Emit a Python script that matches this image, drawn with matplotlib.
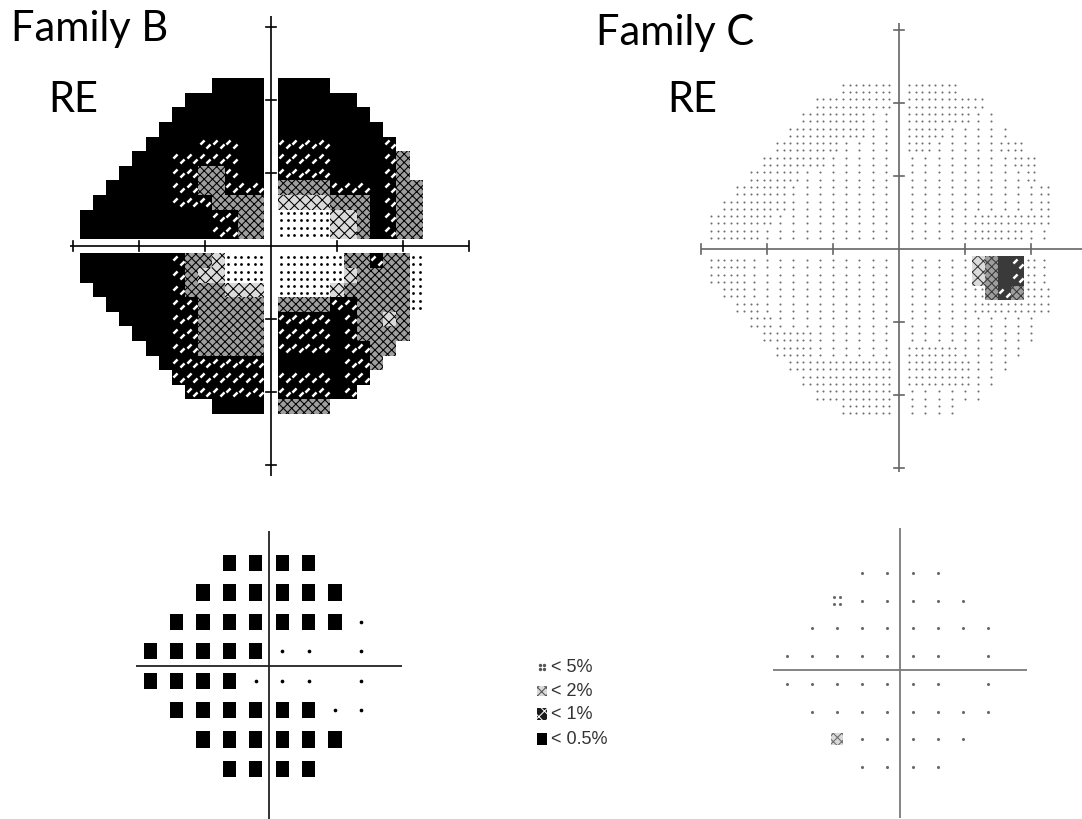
import numpy as np
import matplotlib.pyplot as plt

W, H = 1082, 820

# Grayscale cells are 2 x 2 degrees. Rows run from +22 down to -22 deg,
# columns are nasal -28..-2 then temporal +2..+22 (split by '|').
# 0 = sparse dots, 1 = dense dots, 2 = light hatch, 3 = dense hatch,
# 4 = dark with white dashes, 5 = solid; blank = outside the tested field.
CELL_X = list(range(-28, 0, 2)) + list(range(2, 24, 2))
CELL_Y = list(range(22, 0, -2)) + list(range(-2, -24, -2))

FAMILY_B_GRAY = [
    "          5555|5555       ",
    "        555555|555555     ",
    "       5555555|5555555    ",
    "      55555555|55555555   ",
    "     555544455|444455554  ",
    "    5554444455|4444555543 ",
    "   55554433455|4444555543 ",
    "  555554433444|33334445433",
    " 5555554443333|22223335433",
    "55555555554433|11112235433",
    "55555555554433|11112235433",
    "55555554332111|11111334331",
    "55555554322111|11111233331",
    " 5555554333222|11112333331",
    "  555554433333|33334433331",
    "   55554433333|4444543323 ",
    "    5554433333|4444543333 ",
    "     554433333|444454433  ",
    "      54444444|55555443   ",
    "       4444444|4444544    ",
    "        444444|444454     ",
    "          5555|3333       ",
]

FAMILY_C_GRAY = [
    "          1111|1111       ",
    "        111111|111111     ",
    "       1111100|1111100    ",
    "      11111100|11100000   ",
    "     111110000|110000011  ",
    "    1111100000|0000000011 ",
    "   11110000000|0000000001 ",
    "  111100000000|00000000001",
    " 1111100000000|00000000001",
    "11111000000000|00000111111",
    "11110000000000|00000111100",
    "11100000000000|00000235410",
    "11100000000000|00000235410",
    " 1100000000000|00000134311",
    "  110000000000|00000111111",
    "   11000000000|0000000000 ",
    "    1111000000|0000000000 ",
    "     111000000|111100000  ",
    "      11111111|11111000   ",
    "       1111111|1111100    ",
    "        111111|000000     ",
    "          1111|0000       ",
]

# Pattern deviation probability plots, 24-2 test grid (6 deg spacing)
# 0 = normal, 1 = <5%, 2 = <2%, 3 = <1%, 4 = <0.5%
POINT_X = [-27, -21, -15, -9, -3, 3, 9, 15, 21]
POINT_Y = [21, 15, 9, 3, -3, -9, -15, -21]

FAMILY_B_PROB = [
    "   4444  ",
    "  444444 ",
    " 44444440",
    "4444400 0",
    "4444000 0",
    " 44444400",
    "  444444 ",
    "   4444  ",
]

FAMILY_C_PROB = [
    "   0000  ",
    "  100000 ",
    " 00000000",
    "0000000 0",
    "0000000 0",
    " 00000000",
    "  200000 ",
    "   0000  ",
]

LEGEND_LEVELS = [1, 2, 3, 4]
LEGEND_LABELS = ['< 5%', '< 2%', '< 1%', '< 0.5%']

# slanted white stroke used inside the dark grayscale symbol
DASH = [(-0.5, -0.2), (-0.2, -0.5), (0.5, 0.2), (0.2, 0.5)]

plt.rcParams['hatch.linewidth'] = 0.75
fig = plt.figure(figsize=(W / 100, H / 100), dpi=100)


def place(cx, cy, sx, sy, half):
    # axes centred on pixel (cx, cy), sx / sy pixels per degree
    ax = fig.add_axes([(cx - half * sx) / W, 1 - (cy + half * sy) / H,
                       2 * half * sx / W, 2 * half * sy / H])
    ax.set_xlim(-half, half)
    ax.set_ylim(-half, half)
    ax.axis('off')
    return ax


def cross(ax, xspan, yspan, color, lw, ticks=(), tick=0.7):
    ax.plot(xspan, [0, 0], color=color, lw=lw, solid_capstyle='butt')
    ax.plot([0, 0], yspan, color=color, lw=lw, solid_capstyle='butt')
    for t in ticks:
        ax.plot([t, t], [-tick, tick], color=color, lw=lw)
        ax.plot([-tick, tick], [t, t], color=color, lw=lw)


def split_levels(rows, xs, ys):
    levels = {}
    for y, row in zip(ys, rows):
        for x, ch in zip(xs, row.replace('|', '')):
            if ch != ' ':
                levels.setdefault(int(ch), []).append((x, y))
    out = {}
    for lvl in range(6):
        pts = np.array(levels.get(lvl, []), dtype=float).reshape(-1, 2)
        out[lvl] = (pts[:, 0], pts[:, 1])
    return out


def draw_gray(ax, rows, ink, dot_color, dot_size):
    lv = split_levels(rows, CELL_X, CELL_Y)
    xd = np.concatenate([lv[5][0], lv[4][0]])
    yd = np.concatenate([lv[5][1], lv[4][1]])
    ax.bar(xd, 2, width=2, bottom=yd - 1, color=ink, linewidth=0,
           antialiased=False)
    x4, y4 = lv[4]
    for dx, dy in ((-0.5, 0.3), (0.5, -0.3)):
        ax.scatter(x4 + dx, y4 + dy, marker=DASH, s=18, color='white',
                   linewidths=0)
    for lvl, hatch, face in ((3, 'xxxx', '0.62'), (2, 'xxx', '0.86')):
        xs, ys = lv[lvl]
        ax.bar(xs, 2, width=2, bottom=ys - 1, facecolor=face,
               edgecolor=ink, linewidth=0, hatch=hatch, antialiased=False)
    xs, ys = lv[1]
    for dx in (-0.5, 0.5):
        for dy in (-0.5, 0.5):
            ax.scatter(xs + dx, ys + dy, s=dot_size, color=dot_color,
                       linewidths=0)
    xs, ys = lv[0]
    for dy in (-0.5, 0.5):
        ax.scatter(xs, ys + dy, s=dot_size, color=dot_color, linewidths=0)


def draw_symbols(ax, lv, ink, dot_size, bw, bh, quad):
    xs, ys = lv[0]
    ax.scatter(xs, ys, s=dot_size, color=ink, linewidths=0)
    xs, ys = lv[1]
    for dx in (-quad[0], quad[0]):
        for dy in (-quad[1], quad[1]):
            ax.scatter(xs + dx, ys + dy, s=dot_size, color=ink,
                       linewidths=0)
    xs, ys = lv[2]
    ax.bar(xs, bh * 0.9, width=bw, bottom=ys - bh * 0.45,
           facecolor='0.85', edgecolor=ink, linewidth=0, hatch='xxxx')
    xs, ys = lv[3]
    ax.bar(xs, bh, width=bw, bottom=ys - bh / 2,
           facecolor='#1a1a1a', edgecolor='white', linewidth=0, hatch='xxx')
    xs, ys = lv[4]
    ax.bar(xs, bh, width=bw, bottom=ys - bh / 2, color='black', linewidth=0)


# Family B, grayscale
ax = place(271, 247, 6.6, 7.3, 33)
draw_gray(ax, FAMILY_B_GRAY, 'black', 'black', 4)
cross(ax, [-30.5, 30], [-31.5, 31.5], 'black', 1.2,
      ticks=(-30, -20, -10, 10, 20, 30))

# Family C, grayscale
ax = place(899, 250, 6.6, 7.3, 33)
draw_gray(ax, FAMILY_C_GRAY, '#3a3a3a', '#6e6e6e', 2.2)
cross(ax, [-30, 30], [-30.5, 31], '#666666', 1.2,
      ticks=(-30, -20, -10, 10, 20, 30))

# Family B, probability plot
ax = place(269, 667, 4.4, 4.9, 32)
lv = split_levels(FAMILY_B_PROB, POINT_X, POINT_Y)
draw_symbols(ax, lv, 'black', 7, 3.0, 3.3, (0.8, 0.75))
cross(ax, [-30.2, 30.2], [-33, 27.5], '#222222', 1.3)

# Family C, probability plot
ax = place(900, 671, 4.2, 4.62, 32)
lv = split_levels(FAMILY_C_PROB, POINT_X, POINT_Y)
draw_symbols(ax, lv, '#6a6a6a', 5, 2.8, 2.8, (0.8, 0.75))
cross(ax, [-30.2, 30.2], [-32, 30.7], '#7a7a7a', 1.3)

# legend for the probability symbols, drawn in pixel units
lax = fig.add_axes([500 / W, 1 - 770 / H, 140 / W, 120 / H])
lax.set_xlim(500, 640)
lax.set_ylim(770, 650)
lax.axis('off')
leg_y = [668, 692, 715, 740]
for lvl, y, label in zip(LEGEND_LEVELS, leg_y, LEGEND_LABELS):
    pts = {k: (np.array([542.0]) if k == lvl else np.array([]),
               np.array([float(y)]) if k == lvl else np.array([]))
           for k in range(5)}
    ink = '#555555' if lvl < 3 else '#222222'
    draw_symbols(lax, pts, ink, 6, 10, -12, (2.2, -2.2))
    lax.text(551, y, label, fontsize=13, family='Liberation Sans',
             color='#333333', va='center', ha='left')

title_kw = dict(fontsize=30, family='Lato', color='black', va='baseline')
fig.text(11 / W, 1 - 41 / H, 'Family B', **title_kw)
fig.text(48 / W, 1 - 112 / H, 'RE', **title_kw)
fig.text(596 / W, 1 - 45 / H, 'Family C', **title_kw)
fig.text(667 / W, 1 - 112 / H, 'RE', **title_kw)

fig.savefig('out.png', dpi=100, facecolor='white')
